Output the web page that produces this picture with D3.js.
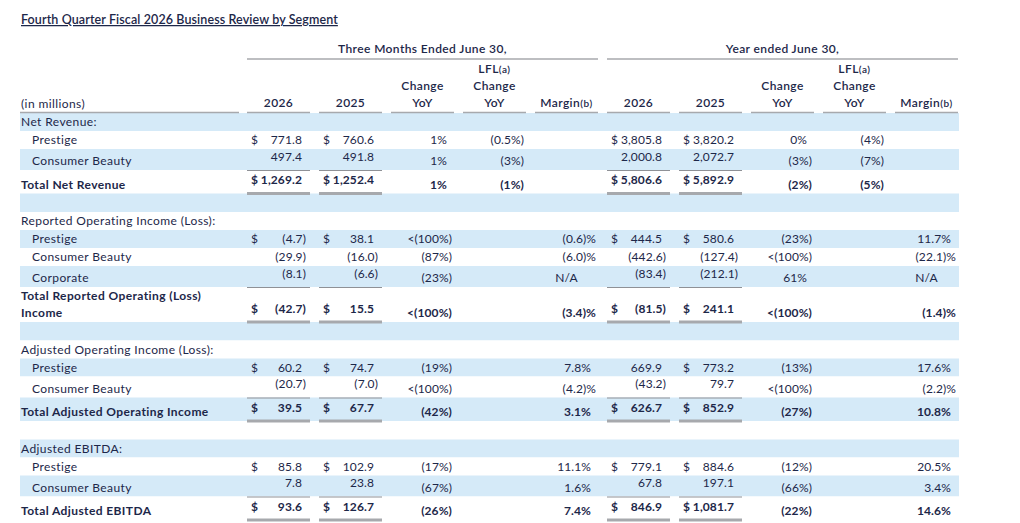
<!DOCTYPE html>
<html>
<head>
<meta charset="utf-8">
<script src="https://cdn.jsdelivr.net/npm/d3@7"></script>
<style>
  body { margin: 0; background: #fff; }
  svg text { font-family: Lato, "Open Sans", sans-serif; fill: #1d2749; letter-spacing: 0.4px; }
  svg text.num { letter-spacing: 0.1px; }
</style>
</head>
<body>
<script>
/* -----------------------------------------------------
 ----------------------------------------------------- */
const title = "Fourth Quarter Fiscal 2026 Business Review by Segment";
const groupTitles = ["Three Months Ended June 30,", "Year ended June 30,"];
const columnHeads = [["2026"], ["2025"], ["Change", "YoY"], ["LFL(a)", "Change", "YoY"], ["Margin(b)"]];

const rowKinds = [
  "head", "item", "pre", "total", "blank",
  "head", "item", "item", "pre", "total2", "blank",
  "head", "item", "pre", "total", "blank",
  "head", "item", "pre", "total"
];
const rowLabels = [
  "Net Revenue:", "Prestige", "Consumer Beauty", "Total Net Revenue", "",
  "Reported Operating Income (Loss):", "Prestige", "Consumer Beauty", "Corporate",
  ["Total Reported Operating (Loss)", "Income"], "",
  "Adjusted Operating Income (Loss):", "Prestige", "Consumer Beauty", "Total Adjusted Operating Income", "",
  "Adjusted EBITDA:", "Prestige", "Consumer Beauty", "Total Adjusted EBITDA"
];

const q2026 = [null, 771.8, 497.4, 1269.2, null, null, -4.7, -29.9, -8.1, -42.7, null, null, 60.2, -20.7, 39.5, null, null, 85.8, 7.8, 93.6];
const q2025 = [null, 760.6, 491.8, 1252.4, null, null, 38.1, -16.0, -6.6, 15.5, null, null, 74.7, -7.0, 67.7, null, null, 102.9, 23.8, 126.7];
const qChange = [null, 1, 1, 1, null, null, "<-100", -87, -23, "<-100", null, null, -19, "<-100", -42, null, null, -17, -67, -26];
const qLfl = [null, -0.5, -3, -1, null, null, null, null, null, null, null, null, null, null, null, null, null, null, null, null];
const qMargin = [null, null, null, null, null, null, -0.6, -6.0, "N/A", -3.4, null, null, 7.8, -4.2, 3.1, null, null, 11.1, 1.6, 7.4];

const y2026 = [null, 3805.8, 2000.8, 5806.6, null, null, 444.5, -442.6, -83.4, -81.5, null, null, 669.9, -43.2, 626.7, null, null, 779.1, 67.8, 846.9];
const y2025 = [null, 3820.2, 2072.7, 5892.9, null, null, 580.6, -127.4, -212.1, 241.1, null, null, 773.2, 79.7, 852.9, null, null, 884.6, 197.1, 1081.7];
const yChange = [null, 0, -3, -2, null, null, -23, "<-100", 61, "<-100", null, null, -13, "<-100", -27, null, null, -12, -66, -22];
const yLfl = [null, -4, -7, -5, null, null, null, null, null, null, null, null, null, null, null, null, null, null, null, null];
const yMargin = [null, null, null, null, null, null, 11.7, -22.1, "N/A", -1.4, null, null, 17.6, -2.2, 10.8, null, null, 20.5, 3.4, 14.6];

// rows that carry a "$" sign, per amount column
const dollarRows = {
  0: [1, 3, 6, 9, 12, 14, 17, 19],
  1: [1, 3, 6, 9, 12, 14, 17, 19],
  5: [1, 3, 6, 9, 14, 17, 19],
  6: [1, 3, 6, 9, 12, 14, 17, 19]
};

/* -----------------------------------------------------
 *  Layout
 ----------------------------------------------------- */
const width = 1020;
const height = 523;
const left = 20;
const right = 959;
const tableTop = 113;
const rowHeight = { head: 18, item: 18, pre: 21, total: 23.5, total2: 35, blank: 18.5 };
const band = "#d5eaf8";
const rule = "#a7a9ad";

const svg = d3
  .select("body")
  .append("svg")
  .attr("width", width)
  .attr("height", height);

const colKeys = d3.range(10);
const x = d3.scaleBand().domain(colKeys).range([247, 958]).paddingInner(0.125).paddingOuter(0);

const heights = rowKinds.map((k) => rowHeight[k]);
const tops = [tableTop, ...d3.cumsum(heights).map((h) => tableTop + h)];
const y = d3.scaleOrdinal().domain(d3.range(rowKinds.length + 1)).range(tops);

/* -----------------------------------------------------
 *  Formatting helpers
 ----------------------------------------------------- */
const fmtAmount = d3.format(",.1f");
function amount(v) {
  return v < 0 ? "(" + fmtAmount(-v) + ")" : fmtAmount(v);
}
function change(v) {
  if (v === "<-100") return "<(100%)";
  return v < 0 ? "(" + Math.abs(v) + "%)" : v + "%";
}
function margin(v) {
  if (v === "N/A") return v;
  return v < 0 ? "(" + d3.format(".1f")(-v) + ")%" : d3.format(".1f")(v) + "%";
}
const isTotal = (i) => rowKinds[i] === "total" || rowKinds[i] === "total2";

/* -----------------------------------------------------
 *  Title
 ----------------------------------------------------- */
svg
  .append("text")
  .attr("x", left + 1)
  .attr("y", 24)
  .style("font-size", "12.5px")
  .style("font-weight", 600)
  .style("letter-spacing", "0.1px")
  .style("text-decoration", "underline")
  .text(title);

/* -----------------------------------------------------
 *  Row bands
 ----------------------------------------------------- */
svg
  .selectAll(".band")
  .data(rowKinds)
  .enter()
  .append("rect")
  .attr("class", "band")
  .attr("x", left)
  .attr("y", (d, i) => y(i))
  .attr("width", right - left)
  .attr("height", (d, i) => y(i + 1) - y(i))
  .attr("fill", (d, i) => (i % 2 === 0 ? band : "#fff"));

/* -----------------------------------------------------
 *  Column headers
 ----------------------------------------------------- */
groupTitles.forEach((g, gi) => {
  const x0 = x(gi * 5);
  const x1 = x(gi * 5 + 4) + x.bandwidth();
  svg
    .append("text")
    .attr("x", (x0 + x1) / 2)
    .attr("y", 53)
    .attr("text-anchor", "middle")
    .style("font-size", "12px")
    .style("font-weight", 600)
    .text(g);
  svg
    .append("line")
    .attr("x1", x0)
    .attr("x2", x1)
    .attr("y1", 59)
    .attr("y2", 59)
    .attr("stroke", rule)
    .attr("stroke-width", 1.3);
});

colKeys.forEach((c) => {
  const lines = columnHeads[c % 5];
  const cx = x(c) + x.bandwidth() / 2;
  lines.forEach((line, li) => {
    const t = svg
      .append("text")
      .attr("x", cx)
      .attr("y", 107 - (lines.length - 1 - li) * 17)
      .attr("text-anchor", "middle")
      .style("font-size", "12px")
      .style("font-weight", 600);
    const m = line.match(/^(.*?)(\([ab]\))?$/);
    t.append("tspan").text(m[1]);
    if (m[2]) t.append("tspan").style("font-size", "10px").style("letter-spacing", "0.6px").text(m[2]);
  });
  svg
    .append("line")
    .attr("x1", x(c))
    .attr("x2", x(c) + x.bandwidth())
    .attr("y1", 112.5)
    .attr("y2", 112.5)
    .attr("stroke", rule)
    .attr("stroke-width", 1.5);
});

svg
  .append("text")
  .attr("x", left + 1)
  .attr("y", 108)
  .style("font-size", "12px")
  .text("(in millions)");
svg
  .append("line")
  .attr("x1", left)
  .attr("x2", 239)
  .attr("y1", 112.5)
  .attr("y2", 112.5)
  .attr("stroke", rule)
  .attr("stroke-width", 1.5);

/* -----------------------------------------------------
 *  Row labels
 ----------------------------------------------------- */
rowLabels.forEach((label, i) => {
  if (!label) return;
  const kind = rowKinds[i];
  const lines = Array.isArray(label) ? label : [label];
  lines.forEach((line, li) => {
    svg
      .append("text")
      .attr("x", kind === "item" || kind === "pre" ? 32 : left + 1)
      .attr("y", y(i + 1) - 5 - (lines.length - 1 - li) * 17)
      .style("font-size", "12px")
      .style("font-weight", isTotal(i) ? 700 : 400)
      .text(line);
  });
});

/* -----------------------------------------------------
 *  Cells
 ----------------------------------------------------- */
const columns = [q2026, q2025, qChange, qLfl, qMargin, y2026, y2025, yChange, yLfl, yMargin];

columns.forEach((values, c) => {
  const type = c % 5;
  values.forEach((v, i) => {
    if (v === null) return;
    const kind = rowKinds[i];
    const weight = isTotal(i) ? 700 : 400;
    const bottom = y(i + 1);
    const x1 = x(c) + x.bandwidth();
    if (type < 2) {
      const lifted = kind === "pre" || isTotal(i);
      const by = bottom - (lifted ? 9.5 : 5);
      svg
        .append("text")
        .attr("class", "num")
        .attr("x", x1 - 8 + (v < 0 ? 4 : 0))
        .attr("y", by)
        .attr("text-anchor", "end")
        .style("font-size", "12px")
        .style("font-weight", weight)
        .text(amount(v));
      if (dollarRows[c].includes(i)) {
        svg
          .append("text")
          .attr("x", x(c) + 4)
          .attr("y", by)
          .style("font-size", "12px")
          .style("font-weight", weight)
          .text("$");
      }
    } else if (type < 4) {
      const s = change(v);
      svg
        .append("text")
        .attr("class", "num")
        .attr("x", x1 - 7 + (s.endsWith(")") ? 5 : 0))
        .attr("y", bottom - 5)
        .attr("text-anchor", "end")
        .style("font-size", "12px")
        .style("font-weight", weight)
        .text(s);
    } else {
      const s = margin(v);
      const na = v === "N/A";
      svg
        .append("text")
        .attr("class", "num")
        .attr("x", na ? x(c) + x.bandwidth() / 2 : x1 - 7 + (s.endsWith(")%") ? 5 : 0))
        .attr("y", bottom - 5)
        .attr("text-anchor", na ? "middle" : "end")
        .style("font-size", "12px")
        .style("font-weight", weight)
        .text(s);
    }
  });
});

/* -----------------------------------------------------
 *  Underlines below amounts (single above totals, heavy below)
 ----------------------------------------------------- */
[0, 1, 5, 6].forEach((c) => {
  rowKinds.forEach((kind, i) => {
    if (!isTotal(i)) return;
    svg
      .append("line")
      .attr("x1", x(c))
      .attr("x2", x(c) + x.bandwidth())
      .attr("y1", y(i) + 0.5)
      .attr("y2", y(i) + 0.5)
      .attr("stroke", "#8f9196")
      .attr("stroke-width", 1);
    svg
      .append("line")
      .attr("x1", x(c))
      .attr("x2", x(c) + x.bandwidth())
      .attr("y1", y(i + 1))
      .attr("y2", y(i + 1))
      .attr("stroke", rule)
      .attr("stroke-width", 3);
  });
});
</script>
</body>
</html>
